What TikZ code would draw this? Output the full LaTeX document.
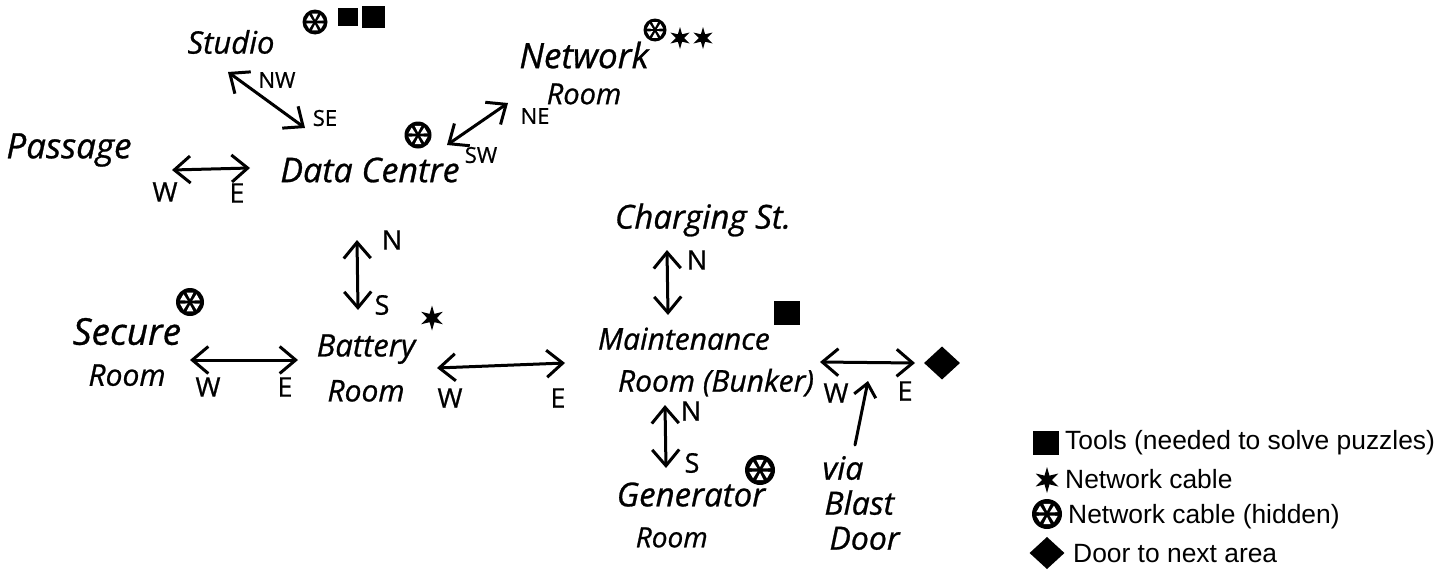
\documentclass[tikz,border=0pt]{standalone}
\usepackage{fontspec}
\setmainfont{Liberation Sans}
\newfontfamily\handfont[FakeBold=0.8,ItalicFeatures={FakeBold=0.8}]{Open Sans}
\newcommand{\hs}[1]{\fontsize{#1}{#1}\selectfont}
\usetikzlibrary{arrows.meta,calc,shapes.geometric}
\tikzset{
  hand/.style={font=\handfont\itshape\fontsize{#1}{#1}\selectfont,inner sep=0pt,align=center,text=black},
  dirlabel/.style={font=\handfont\fontsize{27}{27}\selectfont,inner sep=0pt,text=black},
  smalldir/.style={font=\handfont\fontsize{22}{22}\selectfont,inner sep=0pt,text=black},
  legendtext/.style={font=\fontsize{26.4}{30}\selectfont,inner sep=0pt,anchor=base west,text=black},
  link/.style={line width=3pt,line cap=round,line join=round,{Straight Barb[length=16pt,width=27pt,line width=3pt]}-{Straight Barb[length=16pt,width=27pt,line width=3pt]}},
  onelink/.style={line width=3pt,line cap=round,line join=round,-{Straight Barb[length=13pt,width=22pt,line width=3pt]}},
  toolicon/.style={rectangle,fill=black,inner sep=0pt,minimum width=#1,minimum height=#1*0.92},
  cableicon/.style={star,star points=6,star point ratio=2.6,fill=black,inner sep=0pt,minimum size=#1},
  hiddenicon/.style={circle,fill=black,inner sep=0pt,minimum size=#1,
    path picture={\begin{scope}[shift={(path picture bounding box.center)}]
      \foreach \a in {30,90,150,210,270,330}{\fill[white] (\a:{#1*0.1}) -- ({\a+20}:{#1*0.36}) -- ({\a-20}:{#1*0.36}) -- cycle;}
    \end{scope}}},
  dooricon/.style={diamond,fill=black,inner sep=0pt,minimum width=#1,minimum height=#1*0.92},
}
\begin{document}
\begin{tikzpicture}[x=1pt,y=-1pt]
\fill[white] (0,0) rectangle (1454,570);
\useasboundingbox (0,0) rectangle (1454,570);
% rooms
\node[hand=31] (studio) at (231,42) {Studio};
\node[hand=35] (network) at (584,73) {Network\\[1pt]\hs{29}Room};
\node[hand=35] (passage) at (69,150) {Passage};
\node[hand=34] (data) at (370,170) {Data Centre};
\node[hand=33] (charging) at (703,220) {Charging St.};
\node[hand=37] (secure) at (127,352) {Secure\\[4pt]\hs{30}Room};
\node[hand=31] (battery) at (366,368) {Battery\\[14pt]\hs{30}Room};
\node[hand=30,align=left] (maintenance) at (706,362) {Maintenance\\[12pt]\hspace*{20pt}Room (Bunker)};
\node[hand=33,align=left] (generator) at (691,515) {Generator\\[8pt]\hspace*{19pt}\hs{28}Room};
\node[hand=32,align=left] (via) at (861,503) {via\\[3pt]\hspace*{2pt}Blast\\[3pt]\hspace*{7pt}Door};
% direction labels
\node[smalldir] (nw) at (277,80) {NW};
\node[smalldir] (se) at (325,118) {SE};
\node[smalldir] (ne) at (535,116) {NE};
\node[smalldir] (sw) at (481,155) {SW};
\node[dirlabel] (w1) at (165,192) {W};
\node[dirlabel] (e1) at (237,193) {E};
\node[dirlabel] (n1) at (392,240) {N};
\node[dirlabel] (s1) at (382,305) {S};
\node[dirlabel] (w2) at (208,387) {W};
\node[dirlabel] (e2) at (285,387) {E};
\node[dirlabel] (w3) at (450,398) {W};
\node[dirlabel] (e3) at (558,398) {E};
\node[dirlabel] (n2) at (697,260) {N};
\node[dirlabel] (n3) at (691,411) {N};
\node[dirlabel] (s3) at (692,463) {S};
\node[dirlabel] (w4) at (836,393) {W};
\node[dirlabel] (e4) at (905,391) {E};
% items
\node[hiddenicon=25] (i1) at (315,22) {};
\node[toolicon=20] (i2) at (348,17) {};
\node[toolicon=23] (i3) at (373,17) {};
\node[hiddenicon=23] (i4) at (655,30) {};
\node[cableicon=22] (i5) at (680,38) {};
\node[cableicon=22] (i6) at (703,38) {};
\node[hiddenicon=27] (i7) at (418,135) {};
\node[hiddenicon=28] (i8) at (190,302) {};
\node[cableicon=25] (i9) at (432,318) {};
\node[toolicon=26] (i10) at (787,313) {};
\node[dooricon=36] (door) at (942,363) {};
\node[hiddenicon=30] (i11) at (760,470) {};
% connectors
\draw[link] ($(studio)+(-3,30)$) -- ($(data)+(-65,-42)$);
\draw[link] ($(data)+(77,-25)$) -- ($(network)+(-76,30)$);
\draw[link] ($(passage)+(103,20)$) -- ($(data)+(-120,-2)$);
\draw[link] ($(battery)+(-9,-128)$) -- ($(battery)+(-8,-58)$);
\draw[link] ($(secure)+(63,8)$) -- ($(battery)+(-68,-8)$);
\draw[link] ($(battery)+(71,0)$) -- ($(maintenance)+(-141,1)$);
\draw[link] ($(charging)+(-36,30)$) -- ($(maintenance)+(-38,-47)$);
\draw[link] ($(maintenance)+(-41,43)$) -- ($(generator)+(-25,-47)$);
\draw[link] ($(maintenance)+(114,0)$) -- ($(door)+(-27,0)$);
\coordinate (blast) at (868,381);
\draw[onelink] ($(via)+(-6,-58)$) -- (blast);
% legend
\node[toolicon=26] (li1) at (1046,443) {};
\node[legendtext] (lt1) at (1065,449) {Tools (needed to solve puzzles)};
\node[cableicon=26] (li2) at (1047,480) {};
\node[legendtext] (lt2) at (1065,488) {Network cable};
\node[hiddenicon=30] (li3) at (1047,514) {};
\node[legendtext] (lt3) at (1068,523) {Network cable (hidden)};
\node[dooricon=35] (li4) at (1047,553) {};
\node[legendtext] (lt4) at (1073,562) {Door to next area};
\end{tikzpicture}
\end{document}
